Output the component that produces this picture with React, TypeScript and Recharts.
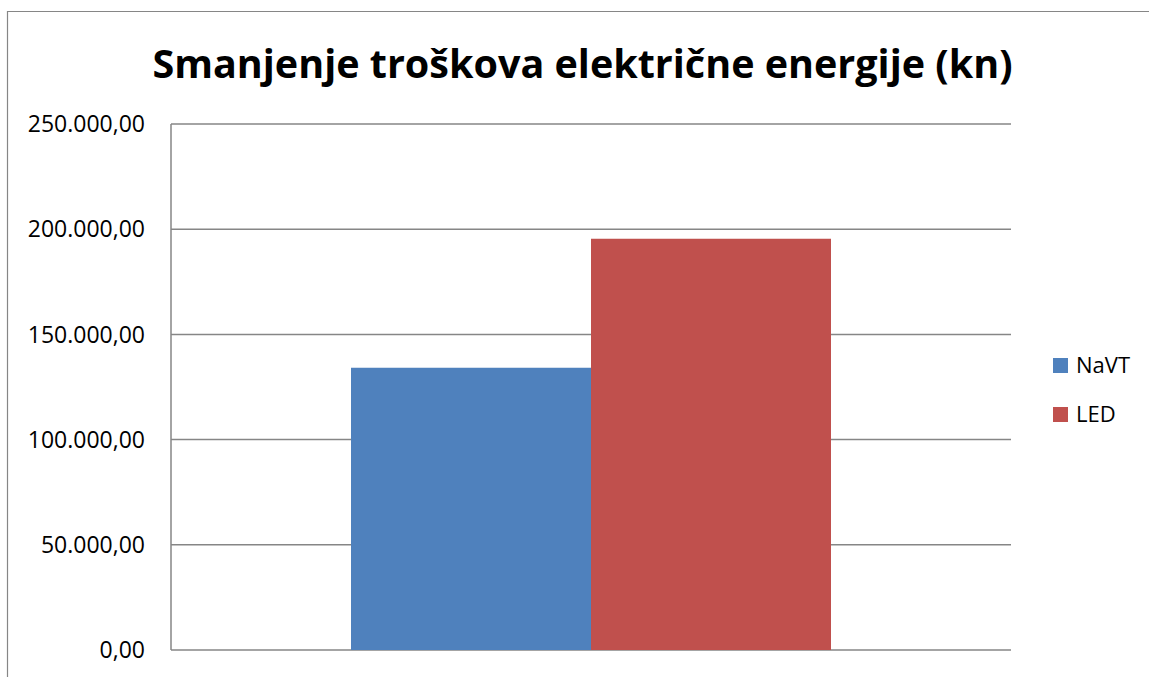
import React from "react";
import { BarChart, Bar, XAxis, YAxis, CartesianGrid } from "recharts";

const categories = ["Troškovi"];
const seriesNames = ["NaVT", "LED"];
const navtValues = [134200];
const ledValues = [195500];
const yTicks = [0, 50000, 100000, 150000, 200000, 250000];
const seriesColors = ["#4F81BD", "#C0504D"];
const title = "Smanjenje troškova električne energije (kn)";

const data = categories.map((c, i) => ({
  category: c,
  NaVT: navtValues[i],
  LED: ledValues[i],
}));

const fmt = (v: number) => {
  const s = Math.round(v).toString();
  const withDots = s.replace(/\B(?=(\d{3})+(?!\d))/g, ".");
  return withDots + ",00";
};

const FONT = "'Open Sans', 'Liberation Sans', sans-serif";
const W = 1149;
const H = 677;

export default function App() {
  return (
    <div
      style={{
        position: "absolute",
        left: 0,
        top: 0,
        width: W,
        height: H,
        overflow: "hidden",
        background: "#fff",
      }}
    >
      <BarChart
        width={W}
        height={H}
        data={data}
        margin={{ top: 124, right: 138, bottom: 27, left: 0 }}
        barCategoryGap={180}
        barGap={0}
      >
        <CartesianGrid vertical={false} stroke="#868686" strokeWidth={1.5} />
        <XAxis dataKey="category" hide />
        <YAxis
          width={171}
          domain={[0, 250000]}
          ticks={yTicks}
          tickFormatter={fmt}
          tickLine={false}
          tickSize={0}
          tickMargin={26}
          axisLine={{ stroke: "#868686", strokeWidth: 1.5 }}
          tick={{ fill: "#000", fontSize: 23, fontFamily: FONT }}
          interval={0}
        />
        {seriesNames.map((n, i) => (
          <Bar key={n} dataKey={n} fill={seriesColors[i]} isAnimationActive={false} />
        ))}
      </BarChart>
      <svg
        width={W}
        height={H}
        style={{ position: "absolute", left: 0, top: 0, pointerEvents: "none" }}
      >
        <path d={`M7.5,${H} V11.5 H${W}`} fill="none" stroke="#868686" strokeWidth={1.2} />
        <text
          x={582.5}
          y={78}
          textAnchor="middle"
          fontFamily={FONT}
          fontWeight="bold"
          fontSize={39.5}
          fill="#000"
        >
          {title}
        </text>
        {seriesNames.map((n, i) => (
          <g key={n}>
            <rect x={1053} y={358 + i * 49} width={15} height={15} fill={seriesColors[i]} />
            <text x={1076} y={373 + i * 49} fontFamily={FONT} fontSize={22} fill="#000">
              {n}
            </text>
          </g>
        ))}
      </svg>
    </div>
  );
}
